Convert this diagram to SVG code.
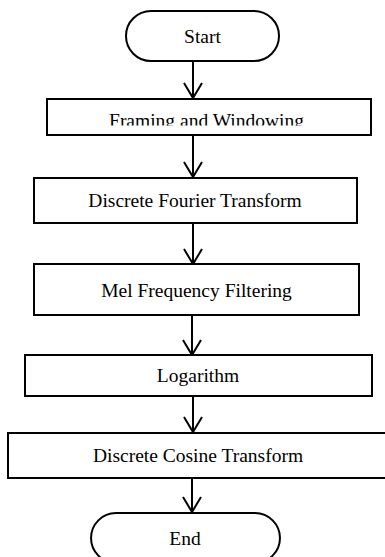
<svg xmlns="http://www.w3.org/2000/svg" width="385" height="557" viewBox="0 0 385 557">
<style>
.box{fill:#fff;stroke:#000;stroke-width:2}
.lbl{font-family:"Liberation Serif","Times New Roman",serif;font-size:19.5px;fill:#000;text-anchor:middle}
.con{stroke:#000;stroke-width:2;fill:none}
</style>
<defs>
<marker id="arr" viewBox="-17 -11 19 22" refX="0" refY="0" markerWidth="19" markerHeight="22" markerUnits="userSpaceOnUse" orient="auto">
<path d="M-15,-9 L0,0 L-15,9" fill="none" stroke="#000" stroke-width="2"/>
</marker>
<clipPath id="clipF"><rect x="0" y="0" width="385" height="125.5"/></clipPath>
</defs>
<rect width="385" height="557" fill="#fff"/>
<g id="connectors">
<line class="con" x1="193" y1="61" x2="193" y2="98" marker-end="url(#arr)"/>
<line class="con" x1="193" y1="135" x2="193" y2="177" marker-end="url(#arr)"/>
<line class="con" x1="193" y1="223" x2="193" y2="264" marker-end="url(#arr)"/>
<line class="con" x1="192" y1="315" x2="192" y2="355" marker-end="url(#arr)"/>
<line class="con" x1="193" y1="396" x2="193" y2="432" marker-end="url(#arr)"/>
<line class="con" x1="192" y1="478" x2="192" y2="512" marker-end="url(#arr)"/>
</g>
<g id="start">
<path class="box" d="M151,11 H254 A25,25 0 0 1 254,61 H151 A25,25 0 0 1 151,11 Z"/>
<text class="lbl" x="202.5" y="43">Start</text>
</g>
<g id="framing">
<rect class="box" x="47" y="99" width="324" height="36"/>
<text class="lbl" x="206.5" y="126.5" clip-path="url(#clipF)">Framing and Windowing</text>
</g>
<g id="dft">
<rect class="box" x="34" y="178" width="323" height="45"/>
<text class="lbl" x="195" y="207.3">Discrete Fourier Transform</text>
</g>
<g id="mel">
<rect class="box" x="34" y="264" width="325" height="51"/>
<text class="lbl" x="196.5" y="296.7">Mel Frequency Filtering</text>
</g>
<g id="log">
<rect class="box" x="25" y="355" width="347" height="41"/>
<text class="lbl" x="198" y="381.7">Logarithm</text>
</g>
<g id="dct">
<rect class="box" x="8" y="433" width="385" height="45"/>
<text class="lbl" x="198" y="461.7">Discrete Cosine Transform</text>
</g>
<g id="end">
<path class="box" d="M116,513 H255 A25,25 0 0 1 255,563 H116 A25,25 0 0 1 116,513 Z"/>
<text class="lbl" x="185" y="545">End</text>
</g>
</svg>
